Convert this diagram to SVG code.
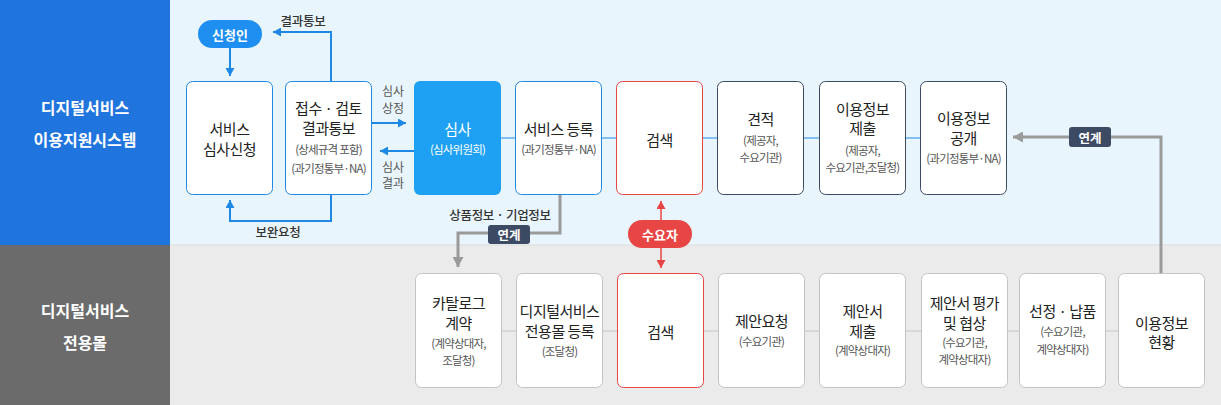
<svg xmlns="http://www.w3.org/2000/svg" width="1221" height="405" viewBox="0 0 1221 405">
<style>
text{font-family:"Noto Sans CJK KR","Noto Sans",sans-serif;dominant-baseline:central;text-anchor:middle}
.m{font-size:15px;fill:#222;letter-spacing:-0.5px}
.s{font-size:11.5px;fill:#555;letter-spacing:-0.8px}
.lbl{font-size:16px;font-weight:bold;fill:#fff}
.sm{font-size:12px;fill:#555}
.note{font-size:12.5px;fill:#333;font-weight:500;letter-spacing:-0.3px}
.pill{font-size:13px;font-weight:bold;fill:#fff}
.tag{font-size:12.5px;font-weight:bold;fill:#fff}
.bb{fill:#fff;stroke:#1e88e5;stroke-width:1}
.bd{fill:#fff;stroke:#3d4a63;stroke-width:1}
.bg{fill:#fff;stroke:#c4c4c4;stroke-width:1}
.br{fill:#fff;stroke:#e84545;stroke-width:1}
.cb{stroke:#1e88e5;stroke-width:1;fill:none}
.cbt{stroke:#1e88e5;stroke-width:2;fill:none}
.cg{stroke:#c4c4c4;stroke-width:1;fill:none}
.cgt{stroke:#9a9a9a;stroke-width:3;fill:none}
.cr{stroke:#e84545;stroke-width:1.5;fill:none}
</style>
<defs>
<marker id="ab" markerUnits="userSpaceOnUse" markerWidth="9" markerHeight="9" refX="8" refY="4.5" orient="auto"><path d="M0,0 L8,4.5 L0,9 z" fill="#1e88e5"/></marker>
<marker id="ag" markerUnits="userSpaceOnUse" markerWidth="11" markerHeight="11" refX="10" refY="5.5" orient="auto"><path d="M0,0 L10,5.5 L0,11 z" fill="#9a9a9a"/></marker>
<marker id="ar" markerUnits="userSpaceOnUse" markerWidth="9" markerHeight="9" refX="8" refY="4.5" orient="auto"><path d="M0,0 L8,4.5 L0,9 z" fill="#e84545"/></marker>
</defs>

<g id="background">
<rect x="0" y="0" width="1221" height="405" fill="#ffffff"/>
<rect x="170" y="0" width="1051" height="245" fill="#e9f5fc"/>
<rect x="170" y="245" width="1051" height="160" fill="#ebebeb"/>
<line x1="170" y1="245" x2="1221" y2="245" stroke="#dcdcdc" stroke-width="1"/>
</g>

<g id="lane-top">
<rect x="0" y="0" width="170" height="245" fill="#1f74dd"/>
<text class="lbl" x="85" y="107">디지털서비스</text>
<text class="lbl" x="85" y="139">이용지원시스템</text>
</g>
<g id="lane-bottom">
<rect x="0" y="245" width="170" height="160" fill="#6b6b6b"/>
<text class="lbl" x="85" y="310">디지털서비스</text>
<text class="lbl" x="85" y="342">전용몰</text>
</g>

<g id="connectors">
<line class="cbt" x1="230" y1="48" x2="230" y2="76" marker-end="url(#ab)"/>
<polyline class="cbt" points="331,81 331,32 273,32" marker-end="url(#ab)"/>
<polyline class="cbt" points="331,194 331,221 230,221 230,200" marker-end="url(#ab)"/>
<line class="cbt" x1="372" y1="123" x2="406" y2="123" marker-end="url(#ab)"/>
<line class="cbt" x1="414" y1="151" x2="380" y2="151" marker-end="url(#ab)"/>
<line class="cb" x1="501" y1="138" x2="515" y2="138"/>
<line class="cb" x1="601" y1="138" x2="616" y2="138"/>
<line class="cb" x1="702" y1="138" x2="717" y2="138"/>
<line class="cb" x1="804" y1="138" x2="819" y2="138"/>
<line class="cb" x1="905" y1="138" x2="920" y2="138"/>
<line class="cg" x1="501" y1="331" x2="516" y2="331"/>
<line class="cg" x1="602" y1="331" x2="617" y2="331"/>
<line class="cg" x1="703" y1="331" x2="718" y2="331"/>
<line class="cg" x1="804" y1="331" x2="819" y2="331"/>
<line class="cg" x1="905" y1="331" x2="921" y2="331"/>
<line class="cg" x1="1007" y1="331" x2="1019" y2="331"/>
<line class="cg" x1="1105" y1="331" x2="1118" y2="331"/>
<polyline class="cgt" points="560,194 560,233 458,233 458,267" marker-end="url(#ag)"/>
<polyline class="cgt" points="1161,273 1161,137 1013,137" marker-end="url(#ag)"/>
<line class="cr" x1="661" y1="220" x2="661" y2="201" marker-end="url(#ar)"/>
<line class="cr" x1="661" y1="248" x2="661" y2="268" marker-end="url(#ar)"/>
<text class="note" x="303" y="20">결과통보</text>
<text class="note" x="278" y="231">보완요청</text>
<text class="sm" x="393" y="90">심사</text>
<text class="sm" x="393" y="107">상정</text>
<text class="sm" x="393" y="166">심사</text>
<text class="sm" x="393" y="182">결과</text>
<text class="note" x="500" y="214">상품정보 · 기업정보</text>
<rect x="488" y="225" width="42" height="19" rx="3" fill="#3d4a63"/>
<text class="tag" x="509" y="234.5">연계</text>
<rect x="1069" y="127" width="42" height="20" rx="3" fill="#3d4a63"/>
<text class="tag" x="1090" y="137">연계</text>
</g>

<g id="applicant">
<rect x="198" y="20" width="64" height="28" rx="14" fill="#1e8ff0"/>
<text class="pill" x="230" y="34">신청인</text>
</g>
<g id="demander">
<rect x="628" y="220" width="64" height="28" rx="14" fill="#e84545"/>
<text class="pill" x="660" y="234">수요자</text>
</g>

<g id="t1"><rect class="bb" x="186.5" y="81.5" width="86" height="113" rx="6"/>
<text class="m" x="229.5" y="128">서비스</text><text class="m" x="229.5" y="148">심사신청</text></g>
<g id="t2"><rect class="bb" x="285.5" y="81.5" width="86" height="113" rx="6"/>
<text class="m" x="328.5" y="107">접수 · 검토</text><text class="m" x="328.5" y="127">결과통보</text>
<text class="s" x="328.5" y="149">(상세규격 포함)</text><text class="s" x="328.5" y="168">(과기정통부·NA)</text></g>
<g id="t3"><rect x="414" y="81" width="87" height="114" rx="6" fill="#1ea1f2"/>
<text class="m" x="457.5" y="128" style="fill:#fff">심사</text><text class="s" x="457.5" y="149" style="fill:#fff">(심사위원회)</text></g>
<g id="t4"><rect class="bb" x="515.5" y="81.5" width="86" height="113" rx="6"/>
<text class="m" x="558.5" y="128">서비스 등록</text><text class="s" x="558.5" y="149">(과기정통부·NA)</text></g>
<g id="t5"><rect class="br" x="616.5" y="81.5" width="86" height="113" rx="6"/>
<text class="m" x="659.5" y="139">검색</text></g>
<g id="t6"><rect class="bd" x="717.5" y="81.5" width="86" height="113" rx="6"/>
<text class="m" x="760.5" y="118">견적</text><text class="s" x="760.5" y="140">(제공자,</text><text class="s" x="760.5" y="157">수요기관)</text></g>
<g id="t7"><rect class="bd" x="819.5" y="81.5" width="86" height="113" rx="6"/>
<text class="m" x="862.5" y="108">이용정보</text><text class="m" x="862.5" y="127">제출</text>
<text class="s" x="862.5" y="150">(제공자,</text><text class="s" x="862.5" y="167">수요기관,조달청)</text></g>
<g id="t8"><rect class="bd" x="920.5" y="81.5" width="86" height="113" rx="6"/>
<text class="m" x="963.5" y="117">이용정보</text><text class="m" x="963.5" y="137">공개</text>
<text class="s" x="963.5" y="158">(과기정통부·NA)</text></g>

<g id="b1"><rect class="bg" x="415.5" y="273.5" width="86" height="114" rx="6"/>
<text class="m" x="458.5" y="302">카탈로그</text><text class="m" x="458.5" y="322">계약</text>
<text class="s" x="458.5" y="343">(계약상대자,</text><text class="s" x="458.5" y="360">조달청)</text></g>
<g id="b2"><rect class="bg" x="516.5" y="273.5" width="86" height="114" rx="6"/>
<text class="m" x="559.5" y="310">디지털서비스</text><text class="m" x="559.5" y="330">전용몰 등록</text>
<text class="s" x="559.5" y="351">(조달청)</text></g>
<g id="b3"><rect class="br" x="617.5" y="273.5" width="86" height="114" rx="6"/>
<text class="m" x="660.5" y="331">검색</text></g>
<g id="b4"><rect class="bg" x="718.5" y="273.5" width="86" height="114" rx="6"/>
<text class="m" x="761.5" y="320">제안요청</text><text class="s" x="761.5" y="341">(수요기관)</text></g>
<g id="b5"><rect class="bg" x="819.5" y="273.5" width="86" height="114" rx="6"/>
<text class="m" x="862.5" y="310">제안서</text><text class="m" x="862.5" y="330">제출</text>
<text class="s" x="862.5" y="350">(계약상대자)</text></g>
<g id="b6"><rect class="bg" x="921.5" y="273.5" width="86" height="114" rx="6"/>
<text class="m" x="964.5" y="302">제안서 평가</text><text class="m" x="964.5" y="322">및 협상</text>
<text class="s" x="964.5" y="342">(수요기관,</text><text class="s" x="964.5" y="359">계약상대자)</text></g>
<g id="b7"><rect class="bg" x="1019.5" y="273.5" width="86" height="114" rx="6"/>
<text class="m" x="1062.5" y="310">선정 · 납품</text>
<text class="s" x="1062.5" y="331">(수요기관,</text><text class="s" x="1062.5" y="349">계약상대자)</text></g>
<g id="b8"><rect class="bg" x="1118.5" y="273.5" width="86" height="114" rx="6"/>
<text class="m" x="1161.5" y="322">이용정보</text><text class="m" x="1161.5" y="341">현황</text></g>
</svg>
